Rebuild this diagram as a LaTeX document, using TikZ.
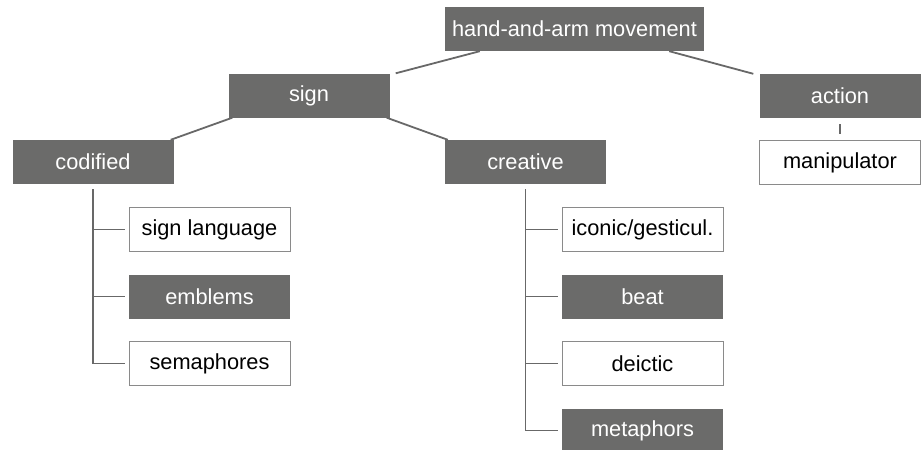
\documentclass[tikz,border=0pt]{standalone}
\usepackage{fontspec}
\setmainfont{Liberation Sans}
\usetikzlibrary{positioning}
\definecolor{boxgray}{RGB}{107,107,106}
\definecolor{linegray}{RGB}{104,104,104}
\definecolor{rimgray}{RGB}{138,138,138}

\begin{document}
\begin{tikzpicture}[
    x=1pt, y=-1pt,
    node distance=22.3pt and 1cm,
    cat/.style={fill=boxgray, text=white, minimum width=161pt, minimum height=44pt, inner sep=0pt, font=\fontsize{21.8}{26}\selectfont},
    leaf/.style={cat, fill=white, draw=rimgray, line width=1pt, text=black},
    link/.style={draw=linegray, line width=1.8pt}
]
\useasboundingbox (0,0) rectangle (922,450);
% upper levels
\node[cat, minimum width=259pt] (hand) at (574.5,29) {hand-and-arm movement};
\node[cat] (sign) at (309,95.5) {sign};
\node[cat] (action) at (840,96) {action};
\node[cat] (codified) at (93,162) {codified};
\node[cat] (creative) at (525.5,162) {creative};
\node[leaf] (manip) at (840,162.5) {manipulator};
% codified leaves
\node[leaf] (siglang) at (209.5,229.5) {sign language};
\node[cat, below=of siglang] (emblems) {emblems};
\node[leaf, below=of emblems] (semaph) {semaphores};
% creative leaves
\node[leaf] (iconic) at (642.5,229.5) {iconic/gesticul.};
\node[cat, below=of iconic] (beat) {beat};
\node[leaf, below=of beat] (deictic) {deictic};
\node[cat, below=of deictic] (metaph) {metaphors};

\draw[link] ([xshift=35pt]hand.south west) -- ([xshift=6pt]sign.north east);
\draw[link] ([xshift=-35pt]hand.south east) -- ([xshift=-6pt]action.north west);
\draw[link] ([xshift=4pt]sign.south west) -- ([xshift=-3pt]codified.north east);
\draw[link] ([xshift=-3pt]sign.south east) -- ([xshift=3pt]creative.north west);
\draw[link] ([yshift=-6pt]action.south) -- ([yshift=6pt]manip.north);

% trunks
\draw[link] ([yshift=-5pt]codified.south) |- ([xshift=-4pt]semaph.west);
\foreach \leaf in {siglang,emblems}
  \draw[link] (codified.south |- \leaf.west) -- ([xshift=-4pt]\leaf.west);
\draw[link] ([yshift=-5pt]creative.south) |- ([xshift=-4pt]metaph.west);
\foreach \leaf in {iconic,beat,deictic}
  \draw[link] (creative.south |- \leaf.west) -- ([xshift=-4pt]\leaf.west);
\end{tikzpicture}
\end{document}
